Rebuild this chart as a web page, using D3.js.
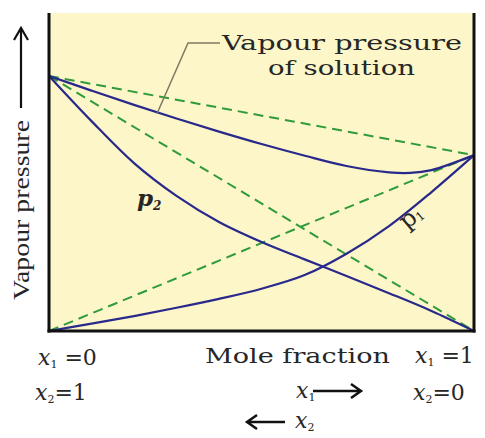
<!DOCTYPE html>
<html><head><meta charset="utf-8">
<script src="https://cdn.jsdelivr.net/npm/d3@7"></script>
<style>html,body{margin:0;padding:0;background:#fff;} svg{display:block;}</style>
</head><body>
<script>
// ---- data ----
const moleFractionX1 = [0, 0.1, 0.2, 0.3, 0.4, 0.5, 0.6, 0.7, 0.8, 0.9, 1];
const p1Values = [0, 0.023, 0.047, 0.073, 0.101, 0.133, 0.175, 0.243, 0.330, 0.437, 0.553];
const p2Values = [0.802, 0.660, 0.528, 0.425, 0.343, 0.280, 0.226, 0.173, 0.119, 0.063, 0];
const totalX = [0, 0.1, 0.2, 0.3, 0.4, 0.5, 0.6, 0.7, 0.8, 0.85, 0.9, 1];
const totalValues = [0.802, 0.756, 0.711, 0.668, 0.627, 0.588, 0.552, 0.519, 0.499, 0.497, 0.506, 0.553];
const p1Pure = 0.553, p2Pure = 0.802;
const idealLines = [
  [[0, p2Pure], [1, 0]],
  [[0, 0], [1, p1Pure]],
  [[0, p2Pure], [1, p1Pure]]
];

const W = 485, H = 438;
const svg = d3.select("body").append("svg").attr("width", W).attr("height", H);
const x = d3.scaleLinear().domain([0, 1]).range([49, 474]);
const y = d3.scaleLinear().domain([0, 1]).range([331, 13]);

const blue = "#29298c", green = "#2f9b3a", ink = "#262626";

svg.append("rect").attr("x", x(0)).attr("y", y(1)).attr("width", x(1) - x(0)).attr("height", y(0) - y(1))
  .attr("fill", "#fcf6c9");

const line = d3.line().x(d => x(d[0])).y(d => y(d[1]));
const curve = d3.line().x(d => x(d[0])).y(d => y(d[1])).curve(d3.curveCatmullRom.alpha(0.5));

idealLines.forEach(l => svg.append("path").attr("d", line(l)).attr("fill", "none")
  .attr("stroke", green).attr("stroke-width", 2).attr("stroke-dasharray", "10,6"));

const p1Data = moleFractionX1.map((v, i) => [v, p1Values[i]]);
const p2Data = moleFractionX1.map((v, i) => [v, p2Values[i]]);
const totData = totalX.map((v, i) => [v, totalValues[i]]);
[p1Data, p2Data, totData].forEach(dd => svg.append("path").attr("d", curve(dd)).attr("fill", "none")
  .attr("stroke", blue).attr("stroke-width", 2.2));

// frame
svg.append("line").attr("x1", x(0)).attr("x2", x(0)).attr("y1", y(1)).attr("y2", y(0) + 1.5).attr("stroke", "#111").attr("stroke-width", 3);
svg.append("line").attr("x1", x(1)).attr("x2", x(1)).attr("y1", y(1)).attr("y2", y(0) + 1.5).attr("stroke", "#111").attr("stroke-width", 3);
svg.append("line").attr("x1", x(0) - 1.5).attr("x2", x(1) + 1.5).attr("y1", y(0)).attr("y2", y(0)).attr("stroke", "#111").attr("stroke-width", 3);

// annotation leader
const lp = [x(0.254), y(0.683)];
svg.append("path").attr("d", `M${lp[0]},${lp[1]} L188,43 L220,43`).attr("fill", "none")
  .attr("stroke", "#7d7a62").attr("stroke-width", 1.5);
const serif = "DejaVu Serif";
svg.append("text").attr("x", 222).attr("y", 50).attr("font-family", serif).attr("font-size", 21)
  .attr("fill", ink).attr("textLength", 240).attr("lengthAdjust", "spacingAndGlyphs").text("Vapour pressure");
svg.append("text").attr("x", 268).attr("y", 75).attr("font-family", serif).attr("font-size", 21)
  .attr("fill", ink).attr("textLength", 147).attr("lengthAdjust", "spacingAndGlyphs").text("of solution");

// curve labels
const p2l = svg.append("text").attr("x", 137).attr("y", 206).attr("font-family", serif).attr("font-size", 23)
  .attr("font-style", "italic").attr("font-weight", "bold").attr("fill", ink);
p2l.append("tspan").text("p");
p2l.append("tspan").attr("font-size", 12).attr("dy", 4).text("2");
const p1l = svg.append("text").attr("transform", "translate(407,230) rotate(-40)").attr("font-family", serif)
  .attr("font-size", 24).attr("fill", ink);
p1l.append("tspan").text("p");
p1l.append("tspan").attr("font-size", 12).attr("dy", 2).text("1");

// y label
svg.append("text").attr("transform", "translate(29,300) rotate(-90)").attr("font-family", "Liberation Serif")
  .attr("font-size", 23).attr("fill", ink).attr("textLength", 180).attr("lengthAdjust", "spacingAndGlyphs").text("Vapour pressure");
svg.append("line").attr("x1", 21).attr("x2", 21).attr("y1", 108).attr("y2", 30).attr("stroke", "#111").attr("stroke-width", 2.2);
svg.append("path").attr("d", "M14,40 L21,28 L28,40").attr("fill", "none").attr("stroke", "#111").attr("stroke-width", 2.2);

// bottom labels
function mathLabel(xp, yp, sub, rest) {
  const t = svg.append("text").attr("x", xp).attr("y", yp).attr("font-family", serif)
    .attr("font-size", 22).attr("fill", ink);
  t.append("tspan").attr("font-style", "italic").text("x");
  t.append("tspan").attr("font-size", 11).attr("dy", 3).text(sub);
  if (rest) t.append("tspan").attr("dy", -3).text(rest);
  return t;
}
mathLabel(38, 365, "1", " =0");
mathLabel(35, 400, "2", "=1");
mathLabel(415, 363, "1", " =1");
mathLabel(413, 400, "2", "=0");
svg.append("text").attr("x", 205).attr("y", 363).attr("font-family", serif).attr("font-size", 20)
  .attr("fill", ink).attr("textLength", 185).attr("lengthAdjust", "spacingAndGlyphs").text("Mole fraction");
mathLabel(296, 398, "1", null);
svg.append("path").attr("d", "M313,391 L360,391 M351,384 L361,391 L351,398").attr("fill", "none")
  .attr("stroke", "#111").attr("stroke-width", 2.5);
svg.append("path").attr("d", "M248,422 L285,422 M257,415 L247,422 L257,429").attr("fill", "none")
  .attr("stroke", "#111").attr("stroke-width", 2.5);
const lx2 = svg.append("text").attr("x", 295).attr("y", 428).attr("font-family", serif).attr("font-size", 22).attr("fill", ink);
lx2.append("tspan").attr("font-style", "italic").text("x");
lx2.append("tspan").attr("font-size", 11).attr("dy", 3).text("2");
</script>
</body></html>
